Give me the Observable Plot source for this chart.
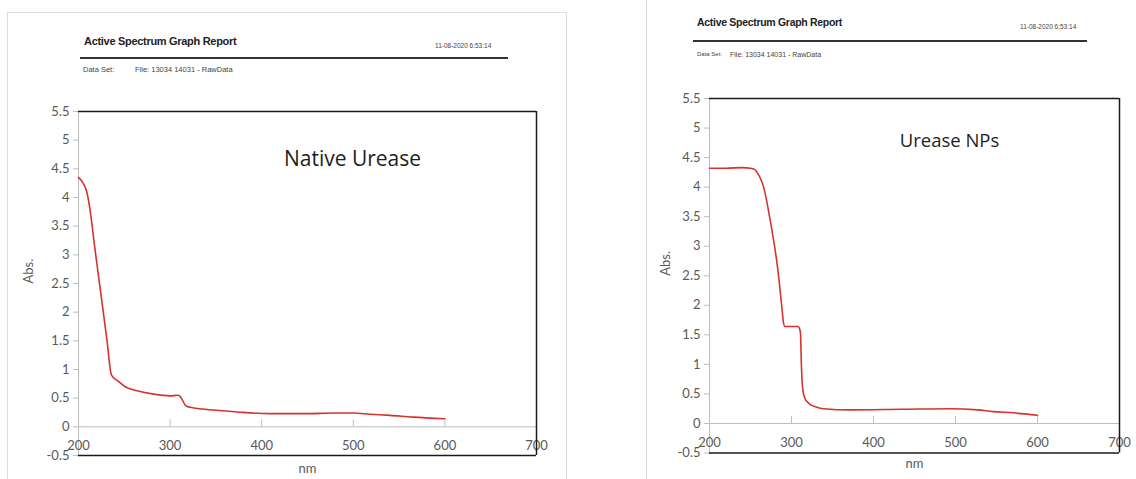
<!DOCTYPE html>
<html>
<head>
<meta charset="utf-8">
<script src="https://cdn.jsdelivr.net/npm/d3@7"></script>
<script src="https://cdn.jsdelivr.net/npm/@observablehq/plot@0.6"></script>
<style>
  html, body { margin: 0; padding: 0; background: #fff; }
  #root { position: relative; width: 1136px; height: 479px; overflow: hidden; background: #fff; font-family: "Liberation Sans", Arial, sans-serif; }
  .page { position: absolute; border: 1px solid #dcdcdc; background: #fff; }
  .hdr { position: absolute; color: #222; white-space: nowrap; }
  .rule { position: absolute; height: 2px; background: #333; }
  .plot { position: absolute; top: 0; }
</style>
</head>
<body>
<div id="root">
  <div class="page" style="left:7px; top:12px; width:558px; height:480px;"></div>
  <div class="page" style="left:646px; top:-5px; width:500px; height:497px;"></div>

  <div class="hdr" style="left:84px; top:35px; font-size:11px; font-weight:bold; letter-spacing:-0.3px;">Active Spectrum Graph Report</div>
  <div class="hdr" style="left:435px; top:42px; font-size:6.5px; color:#444;">11-08-2020 6:53:14</div>
  <div class="rule" style="left:80px; top:57px; width:428px;"></div>
  <div class="hdr" style="left:83px; top:65px; font-size:7.5px; color:#444;">Data Set:</div>
  <div class="hdr" style="left:135px; top:65px; font-size:7.5px; color:#444;">File: 13034 14031 - RawData</div>

  <div class="hdr" style="left:697px; top:16px; font-size:10.5px; font-weight:bold; letter-spacing:-0.3px;">Active Spectrum Graph Report</div>
  <div class="hdr" style="left:1020px; top:23px; font-size:6.5px; color:#444;">11-08-2020 6:53:14</div>
  <div class="rule" style="left:693px; top:40px; width:394px; height:1.5px;"></div>
  <div class="hdr" style="left:697px; top:51px; font-size:6px; color:#444;">Data Set:</div>
  <div class="hdr" style="left:730px; top:51px; font-size:7px; color:#444;">File: 13034 14031 - RawData</div>

  <div id="left" class="plot" style="left:0px;"></div>
  <div id="right" class="plot" style="left:568px;"></div>
</div>
<script>
// ---- data ----
const nativeNm  = [200, 205, 209, 212, 218, 224, 231, 236, 243, 251, 264, 282, 300, 308, 311, 317, 322, 336, 373, 409, 445, 482, 500, 518, 540, 565, 600];
const nativeAbs = [4.35, 4.25, 4.10, 3.85, 3.10, 2.37, 1.52, 0.9, 0.8, 0.70, 0.63, 0.57, 0.54, 0.55, 0.53, 0.37, 0.34, 0.31, 0.26, 0.23, 0.23, 0.24, 0.24, 0.22, 0.20, 0.17, 0.14];

const npsNm  = [200, 220, 240, 250, 255, 258, 262, 266, 274, 283, 289, 290, 292, 300, 308, 310, 311, 312, 313, 314, 316, 319, 323, 330, 339, 372, 433, 494, 527, 546, 570, 600];
const npsAbs = [4.32, 4.32, 4.33, 4.32, 4.30, 4.25, 4.15, 4.0, 3.44, 2.64, 1.86, 1.72, 1.64, 1.64, 1.64, 1.60, 1.52, 1.02, 0.70, 0.55, 0.44, 0.37, 0.32, 0.28, 0.25, 0.23, 0.24, 0.25, 0.23, 0.20, 0.18, 0.14];

const xTicks = [200, 300, 400, 500, 600, 700];
const yTicks = [-0.5, 0, 0.5, 1, 1.5, 2, 2.5, 3, 3.5, 4, 4.5, 5, 5.5];
const xDomain = [200, 700];
const yDomain = [-0.5, 5.5];
const panelTitles = ["Native Urease", "Urease NPs"];
const xLabel = "nm";
const yLabel = "Abs.";

function panel(nm, abs, title, cfg) {
  const data = nm.map((x, i) => ({x, y: abs[i]}));
  return Plot.plot({
    width: 568,
    height: 479,
    marginLeft: cfg.ml, marginRight: cfg.mr, marginTop: cfg.mt, marginBottom: cfg.mb,
    x: {domain: xDomain, axis: null},
    y: {domain: yDomain, axis: null},
    style: {background: "transparent", fontFamily: "Lato, 'Open Sans', sans-serif", fontSize: "13px", color: "#595959", overflow: "visible"},
    marks: [
      // gray axes
      Plot.ruleX([xDomain[0]], {stroke: "#bdbdbd", strokeWidth: 1}),
      Plot.ruleY([0], {stroke: "#bdbdbd", strokeWidth: 1}),
      // y ticks + labels
      Plot.ruleY(yTicks, {y: d => d, x1: xDomain[0], x2: xDomain[0], insetLeft: -5, insetRight: -1, stroke: "#bdbdbd"}),
      Plot.text(yTicks, {y: d => d, x: xDomain[0], text: d => String(d), textAnchor: "end", dx: -9, fill: "#595959", fontSize: 13}),
      // x ticks + labels
      Plot.ruleX(xTicks, {x: d => d, y1: 0, y2: 0, insetTop: -7, insetBottom: 0, stroke: "#bdbdbd"}),
      Plot.text(xTicks, {x: d => d, y: 0, text: d => String(d), dy: cfg.xdy, fill: "#595959", fontSize: 13}),
      // black frame (top, bottom, right)
      Plot.ruleY(yDomain, {stroke: "#1a1a1a", strokeWidth: 1.5}),
      Plot.ruleX([xDomain[1]], {stroke: "#1a1a1a", strokeWidth: 1.5}),
      // spectrum
      Plot.line(data, {x: "x", y: "y", stroke: "#d6332e", strokeWidth: 1.6, curve: "monotone-x"}),
      // axis labels
      Plot.text([yLabel], {frameAnchor: "left", dx: cfg.ydx, rotate: -90, fill: "#595959", fontSize: 13}),
      Plot.text([xLabel], {frameAnchor: "bottom", dy: cfg.nmdy, fill: "#595959", fontSize: 13}),
      // panel title
      Plot.text([title], {frameAnchor: "top", dx: cfg.tdx, dy: cfg.tdy, fill: "#1e1e1e", fontSize: cfg.tfs, fontFamily: "'Open Sans', 'Noto Sans', sans-serif"})
    ]
  });
}

document.getElementById("left").append(
  panel(nativeNm, nativeAbs, panelTitles[0], {ml: 78, mr: 32, mt: 111, mb: 24, xdy: 19, ydx: -50, nmdy: 17, tdx: 45, tdy: 40, tfs: 21})
);
document.getElementById("right").append(
  panel(npsNm, npsAbs, panelTitles[1], {ml: 141, mr: 17, mt: 98, mb: 26.5, xdy: 19, ydx: -44, nmdy: 15, tdx: 35, tdy: 35, tfs: 18.5})
);
</script>
</body>
</html>
